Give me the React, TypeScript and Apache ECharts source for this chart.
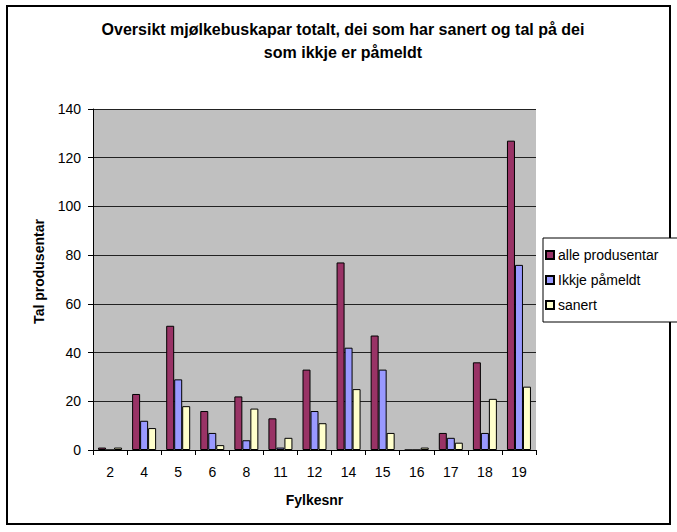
import React, { useEffect, useRef } from "react";
import * as echarts from "echarts";

const categories = ["2", "4", "5", "6", "8", "11", "12", "14", "15", "16", "17", "18", "19"];
const alleProdusentar = [1, 23, 51, 16, 22, 13, 33, 77, 47, 0, 7, 36, 127];
const ikkjePameldt = [0, 12, 29, 7, 4, 1, 16, 42, 33, 0, 5, 7, 76];
const sanert = [1, 9, 18, 2, 17, 5, 11, 25, 7, 1, 3, 21, 26];

const FONT = "'Liberation Sans', Arial, sans-serif";

export default function App() {
  const ref = useRef<HTMLDivElement>(null);
  useEffect(() => {
    document.body.style.margin = "0";
    const chart = echarts.init(ref.current!, undefined, { renderer: "svg" });
    const barStyle = (color: string) => ({
      color,
      borderColor: "#000",
      borderWidth: 1,
    });
    chart.setOption({
      animation: false,
      backgroundColor: "#fff",
      textStyle: { fontFamily: FONT, color: "#000" },
      title: {
        text: "Oversikt mjølkebuskapar totalt, dei som har sanert og tal på dei\nsom ikkje er påmeldt",
        left: 338,
        textAlign: "center",
        top: 13,
        textStyle: { fontFamily: FONT, fontSize: 16, fontWeight: "bold", color: "#000", lineHeight: 23 },
      },
      graphic: [
        {
          type: "rect",
          shape: { x: 7, y: 6, width: 663, height: 518 },
          style: { fill: "none", stroke: "#000", lineWidth: 2 },
          silent: true,
        },
      ],
      legend: {
        orient: "vertical",
        left: 543,
        top: 238,
        itemWidth: 8,
        itemHeight: 8,
        itemGap: 11,
        padding: [10, 20, 10, 2],
        backgroundColor: "#fff",
        borderColor: "#000",
        borderWidth: 1,
        textStyle: { fontFamily: FONT, fontSize: 14, color: "#000", padding: [0, 0, 0, -1] },
        data: ["alle produsentar", "Ikkje påmeldt", "sanert"],
        icon: "rect",
      },
      grid: {
        left: 93,
        right: 141,
        top: 109,
        bottom: 82,
        show: true,
        backgroundColor: "#c0c0c0",
        borderWidth: 0,
      },
      xAxis: {
        type: "category",
        data: categories,
        name: "Fylkesnr",
        nameLocation: "middle",
        nameGap: 43,
        nameTextStyle: { fontFamily: FONT, fontSize: 14, fontWeight: "bold", color: "#000" },
        axisLine: { lineStyle: { color: "#000", width: 1 } },
        axisTick: { show: true, length: 5, lineStyle: { color: "#000" } },
        axisLabel: { fontFamily: FONT, fontSize: 14, color: "#000", margin: 15 },
        splitLine: { show: false },
      },
      yAxis: {
        type: "value",
        min: 0,
        max: 140,
        interval: 20,
        name: "Tal produsentar",
        nameLocation: "middle",
        nameRotate: 90,
        nameGap: 47,
        nameTextStyle: { fontFamily: FONT, fontSize: 14, fontWeight: "bold", color: "#000", padding: [0, 0, 0, 16] },
        axisLine: { show: true, lineStyle: { color: "#000", width: 1 } },
        axisTick: { show: true, length: 5, lineStyle: { color: "#000" } },
        axisLabel: { fontFamily: FONT, fontSize: 14, color: "#000", margin: 12 },
        splitLine: { show: true, lineStyle: { color: "#222", width: 1 } },
      },
      series: [
        {
          name: "alle produsentar",
          type: "bar",
          data: alleProdusentar,
          barWidth: 8,
          barGap: "0%",
          itemStyle: barStyle("#993366"),
        },
        {
          name: "Ikkje påmeldt",
          type: "bar",
          data: ikkjePameldt,
          barWidth: 8,
          barGap: "0%",
          itemStyle: barStyle("#9999ff"),
        },
        {
          name: "sanert",
          type: "bar",
          data: sanert,
          barWidth: 8,
          barGap: "0%",
          itemStyle: barStyle("#ffffcc"),
        },
      ],
    });
    return () => chart.dispose();
  }, []);
  return <div ref={ref} style={{ width: 677, height: 532 }} />;
}
